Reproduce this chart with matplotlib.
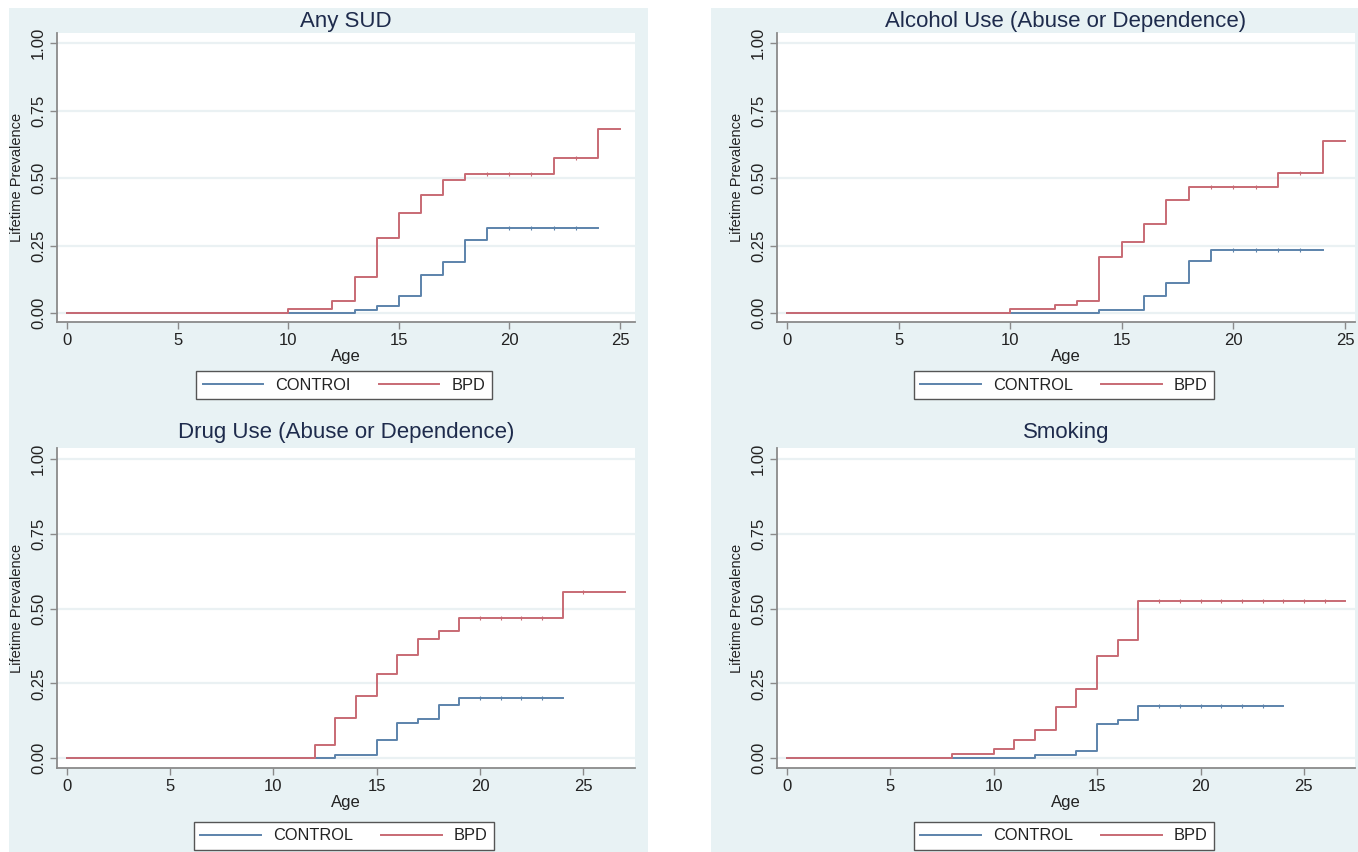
import matplotlib
matplotlib.use("Agg")
import matplotlib.pyplot as plt
from matplotlib.patches import Rectangle
import numpy as np

plt.rcParams['font.family'] = ['Liberation Sans', 'DejaVu Sans']

W, H = 1358, 852

titles = ["Any SUD", "Alcohol Use (Abuse or Dependence)",
          "Drug Use (Abuse or Dependence)", "Smoking"]
legend_labels = [["CONTROI", "BPD"], ["CONTROL", "BPD"],
                 ["CONTROL", "BPD"], ["CONTROL", "BPD"]]

# step data: event ages and cumulative prevalence after each step
sud_bpd_x = [0, 10, 12, 13, 14, 15, 16, 17, 18, 22, 24, 25]
sud_bpd_y = [0, 0.015, 0.043, 0.132, 0.278, 0.370, 0.436, 0.491, 0.516, 0.575, 0.680, 0.680]
sud_ctl_x = [0, 13, 14, 15, 16, 17, 18, 19, 24]
sud_ctl_y = [0, 0.012, 0.025, 0.062, 0.142, 0.189, 0.272, 0.314, 0.314]

alc_bpd_x = [0, 10, 12, 13, 14, 15, 16, 17, 18, 22, 24, 25]
alc_bpd_y = [0, 0.015, 0.030, 0.043, 0.206, 0.265, 0.331, 0.420, 0.465, 0.520, 0.638, 0.638]
alc_ctl_x = [0, 14, 16, 17, 18, 19, 24]
alc_ctl_y = [0, 0.010, 0.065, 0.111, 0.191, 0.233, 0.233]

drg_bpd_x = [0, 12, 13, 14, 15, 16, 17, 18, 19, 24, 27]
drg_bpd_y = [0, 0.045, 0.135, 0.207, 0.281, 0.346, 0.400, 0.425, 0.468, 0.556, 0.556]
drg_ctl_x = [0, 13, 15, 16, 17, 18, 19, 24]
drg_ctl_y = [0, 0.012, 0.062, 0.116, 0.132, 0.179, 0.202, 0.202]

smk_bpd_x = [0, 8, 10, 11, 12, 13, 14, 15, 16, 17, 27]
smk_bpd_y = [0, 0.0145, 0.029, 0.060, 0.093, 0.171, 0.232, 0.340, 0.394, 0.525, 0.525]
smk_ctl_x = [0, 12, 14, 15, 16, 17, 24]
smk_ctl_y = [0, 0.012, 0.023, 0.113, 0.128, 0.175, 0.175]

# censoring marks (ages)
sud_bpd_c = [19, 20, 21, 23]
sud_ctl_c = [20, 21, 22, 23]
alc_bpd_c = [19, 20, 21, 23]
alc_ctl_c = [20, 21, 22, 23]
drg_bpd_c = [20, 21, 22, 23, 25]
drg_ctl_c = [20, 21, 22, 23]
smk_bpd_c = [18, 19, 20, 21, 22, 23, 24, 25, 26]
smk_ctl_c = [18, 19, 20, 21, 22, 23]

series = [
    ((sud_ctl_x, sud_ctl_y, sud_ctl_c), (sud_bpd_x, sud_bpd_y, sud_bpd_c)),
    ((alc_ctl_x, alc_ctl_y, alc_ctl_c), (alc_bpd_x, alc_bpd_y, alc_bpd_c)),
    ((drg_ctl_x, drg_ctl_y, drg_ctl_c), (drg_bpd_x, drg_bpd_y, drg_bpd_c)),
    ((smk_ctl_x, smk_ctl_y, smk_ctl_c), (smk_bpd_x, smk_bpd_y, smk_bpd_c)),
]

xticks = [0, 5, 10, 15, 20, 25]
yticks = [0, 0.25, 0.5, 0.75, 1.0]
ytick_labels = ["0.00", "0.25", "0.50", "0.75", "1.00"]


def step_at(ages, xs, ys):
    xs = np.asarray(xs)
    ys = np.asarray(ys)
    idx = np.searchsorted(xs, np.asarray(ages), side="right") - 1
    return ys[idx]


BG = "#e8f2f4"
C_CTL = "#5c83ab"
C_BPD = "#c86a74"
TITLE_C = "#1e2b4c"
TXT = "#222222"
AX_C = "#8a8a8a"

fig = plt.figure(figsize=(W / 100, H / 100), dpi=100)
fig.patch.set_facecolor("white")

# column backgrounds (pixels)
for (x0, x1, y0, y1) in [(9, 648, 8, 852), (711, 1358, 8, 852)]:
    fig.add_artist(Rectangle((x0 / W, 1 - y1 / H), (x1 - x0) / W, (y1 - y0) / H,
                             transform=fig.transFigure, facecolor=BG,
                             edgecolor="none", zorder=0))

# axes boxes in pixels: left, right, top, bottom
boxes = [(57, 635, 33, 322), (777, 1355, 33, 322),
         (57, 635, 448, 768), (777, 1355, 448, 768)]
xlims = [(-0.45, 25.68), (-0.45, 25.45), (-0.48, 27.5), (-0.48, 27.47)]
ylim = (-0.033, 1.037)
title_y = [21, 21, 433, 433]

for i, (l, r, t, b) in enumerate(boxes):
    ax = fig.add_axes([l / W, 1 - b / H, (r - l) / W, (b - t) / H])
    ax.set_facecolor("white")
    ax.set_xlim(*xlims[i])
    ax.set_ylim(*ylim)
    for yv in yticks:
        ax.axhline(yv, color="#eaf1f3", lw=1.6, zorder=1)
    (cx, cy, cc), (bx, by, bc) = series[i]
    lc, = ax.step(cx, cy, where="post", color=C_CTL, lw=1.4, zorder=3,
                  label=legend_labels[i][0])
    lb, = ax.step(bx, by, where="post", color=C_BPD, lw=1.4, zorder=3,
                  label=legend_labels[i][1])
    ax.plot(cc, step_at(cc, cx, cy), ls="none", marker="|", ms=3.5,
            color=C_CTL, mew=0.8, zorder=4)
    ax.plot(bc, step_at(bc, bx, by), ls="none", marker="|", ms=3.5,
            color=C_BPD, mew=0.8, zorder=4)

    for s in ["top", "right"]:
        ax.spines[s].set_visible(False)
    for s in ["left", "bottom"]:
        ax.spines[s].set_color(AX_C)
        ax.spines[s].set_linewidth(1.3)
    ax.set_xticks(xticks)
    ax.set_xticklabels([str(v) for v in xticks])
    ax.set_yticks(yticks)
    ax.set_yticklabels(ytick_labels, rotation=90, va="center")
    ax.tick_params(axis="both", colors=AX_C, labelcolor=TXT, labelsize=12,
                   length=5, width=1.0, pad=3)

    cxp = (l + r) / 2
    fig.text(cxp / W, 1 - title_y[i] / H, titles[i], ha="center", va="center",
             fontsize=16, color=TITLE_C)
    fig.text(cxp / W, 1 - (b + 34) / H, "Age", ha="center", va="center",
             fontsize=12, color=TXT)
    fig.text((l - 40) / W, 1 - ((t + b) / 2) / H, "Lifetime Prevalence",
             rotation=90, ha="center", va="center", fontsize=10.5, color=TXT)

    leg_cy = 385 if i < 2 else 836
    leg = fig.legend(handles=[lc, lb], loc="center",
                     bbox_to_anchor=((cxp - 2) / W, 1 - leg_cy / H),
                     bbox_transform=fig.transFigure, ncol=2, fontsize=11.8,
                     handlelength=3.7, handletextpad=0.75, columnspacing=1.7,
                     borderpad=0.4, borderaxespad=0, fancybox=False,
                     framealpha=1, edgecolor="#555555")
    leg.get_frame().set_linewidth(1.0)
    for txt in leg.get_texts():
        txt.set_color(TXT)

fig.savefig("out.png", dpi=100, facecolor="white")
